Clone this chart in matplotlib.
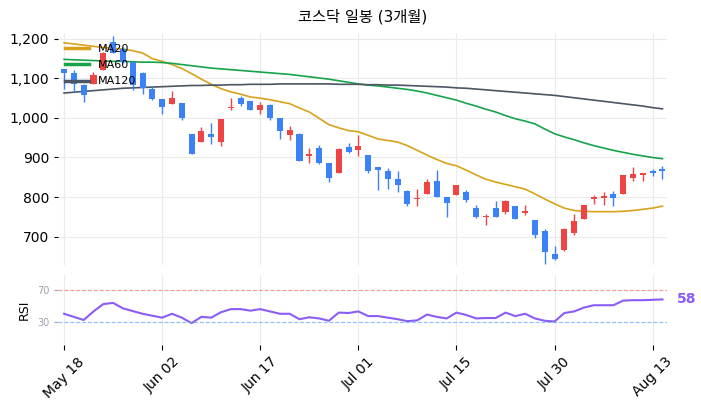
import matplotlib.pyplot as plt
import numpy as np

plt.rcParams['font.family'] = ['DejaVu Sans', 'Noto Sans CJK KR']

opens = [1124,1114,1084,1086,1120,1192,1175,1141,1114,1074,1047,1034,1038,959,939,959,939,1025,1051,1042,
         1019,1032,1000,958,960,905,924,887,860,927,920,907,877,867,845,816,794,807,841,799,
         804,814,772,749,772,761,777,760,743,715,655,666,708,745,794,797,808,807,847,855,865,870]
closes = [1113,1086,1057,1109,1165,1165,1141,1082,1075,1049,1027,1050,1001,910,967,951,998,1027,1034,1019,
          1033,1000,966,970,891,908,887,849,922,914,928,865,868,846,830,783,797,838,799,785,
          831,792,749,752,749,790,745,766,703,660,643,720,739,781,800,803,798,857,859,860,860,865]
highs = [1124,1122,1086,1117,1167,1208,1180,1141,1116,1080,1047,1069,1038,959,977,986,998,1050,1055,1042,
         1040,1035,1000,980,963,924,932,887,924,937,956,907,877,873,866,818,821,846,869,799,
         831,817,781,758,790,792,777,779,743,720,677,722,758,781,804,814,815,857,876,862,872,879]
lows = [1074,1065,1040,1086,1120,1165,1138,1070,1061,1045,1011,1034,994,908,939,934,929,1021,1029,1019,
        1011,996,947,943,891,887,884,838,860,911,905,862,818,820,813,777,777,807,799,750,
        804,788,748,730,749,758,745,754,697,631,640,663,705,745,783,781,777,807,841,841,853,846]

ma20 = [1190,1187,1184,1181,1178,1176,1174,1170,1164,1150,1143,1135,1125,1112,1098,1085,1074,1066,1060,1053,
        1050,1046,1041,1036,1025,1015,999,983,975,968,965,956,947,943,939,930,918,906,895,885,
        879,868,856,845,838,832,826,820,808,795,783,772,766,764,763,763,763,764,766,769,772,777]
ma60 = [1148,1147,1146,1145,1144,1143,1143,1142,1141,1141,1140,1138,1135,1132,1129,1126,1124,1122,1120,1118,
        1116,1114,1112,1110,1107,1104,1101,1098,1094,1090,1086,1083,1081,1078,1075,1072,1068,1063,1057,1051,
        1045,1037,1030,1022,1015,1006,998,992,985,972,960,952,945,937,930,924,918,913,908,904,900,897]
ma120 = [1063,1065,1067,1069,1071,1073,1075,1076,1077,1078,1079,1080,1081,1082,1082,1083,1083,1084,1084,1085,
         1085,1085,1086,1086,1086,1086,1086,1086,1085,1085,1085,1084,1084,1083,1083,1082,1081,1080,1079,1078,
         1076,1075,1073,1071,1069,1067,1065,1063,1061,1059,1057,1054,1051,1048,1045,1042,1039,1036,1033,1030,1026,1023]
rsi = [40,36,32,43,52.5,54,47,43.5,40,37.5,35,40,35,28,36,35,42,46,46,44,
       46,43,40,40,33,35.5,34,31,41.5,41,43,37,37,35,33,30.5,31.5,39,36,34,
       41.5,38.5,34,34.5,34.5,41.5,37,40,34,31,30,41,43,48,51,51,51,57,57.5,57.5,58,58.5]

tick_pos = [0, 10, 20, 30, 40, 50, 60]
tick_labels = ['May 18', 'Jun 02', 'Jun 17', 'Jul 01', 'Jul 15', 'Jul 30', 'Aug 13']

UP, DOWN = '#ef4444', '#3b82f6'
x = np.arange(len(opens))

fig = plt.figure(figsize=(7.01, 4.11), dpi=100)
ax = fig.add_axes([0.083, 0.355, 0.869, 0.565])
ax2 = fig.add_axes([0.083, 0.161, 0.869, 0.17], sharex=ax)

for i in x:
    c = UP if closes[i] >= opens[i] else DOWN
    ax.vlines(i, lows[i], highs[i], color=c, lw=1, zorder=3)
    lo, hi = min(opens[i], closes[i]), max(opens[i], closes[i])
    ax.bar(i, max(hi - lo, 2), bottom=lo, width=0.62, color=c, zorder=3)

ax.plot(x, ma20, color='#d9a21b', lw=1.2, label='MA20')
ax.plot(x, ma60, color='#16a34a', lw=1.2, label='MA60')
ax.plot(x, ma120, color='#4b5563', lw=1.2, label='MA120')
leg = ax.legend(loc='upper left', frameon=False, fontsize=8, handlelength=2.2,
                borderaxespad=0.2, labelspacing=0.55, bbox_to_anchor=(0.0, 0.98))
for h in leg.get_lines():
    h.set_linewidth(2.5)
ax.set_ylim(628, 1215)
ax.set_yticks([700, 800, 900, 1000, 1100, 1200])
ax.yaxis.set_major_formatter(plt.FuncFormatter(lambda v, p: f'{int(v):,}'))
ax.set_xlim(-0.6, 61.5)
ax.grid(color='#ebebeb', lw=0.8)
ax.set_axisbelow(True)
ax.tick_params(axis='x', labelbottom=False, length=0)
ax.tick_params(axis='y', labelsize=10, length=3)
for s in ax.spines.values():
    s.set_visible(False)
ax.set_title('코스닥 일봉 (3개월)', fontsize=11, pad=8)

ax2.plot(x, rsi, color='#8b5cf6', lw=1.5)
ax2.axhline(70, color='#f87171', lw=0.8, ls='--', alpha=0.7)
ax2.axhline(30, color='#60a5fa', lw=0.8, ls='--', alpha=0.7)
ax2.set_ylim(0, 90)
ax2.set_yticks([30, 70])
ax2.tick_params(axis='y', labelsize=7, colors='#9ca3af', length=3)
ax2.set_ylabel('RSI', fontsize=9)
ax2.set_xticks(tick_pos)
ax2.set_xticklabels(tick_labels, rotation=45, fontsize=10)
ax2.grid(axis='x', color='#ebebeb', lw=0.8)
for s in ax2.spines.values():
    s.set_visible(False)
ax2.text(1.015, rsi[-1], f'{rsi[-1]:.0f}', transform=ax2.get_yaxis_transform(),
         color='#8b5cf6', fontsize=10, fontweight='bold', va='center')

fig.savefig('out.png', dpi=100)
